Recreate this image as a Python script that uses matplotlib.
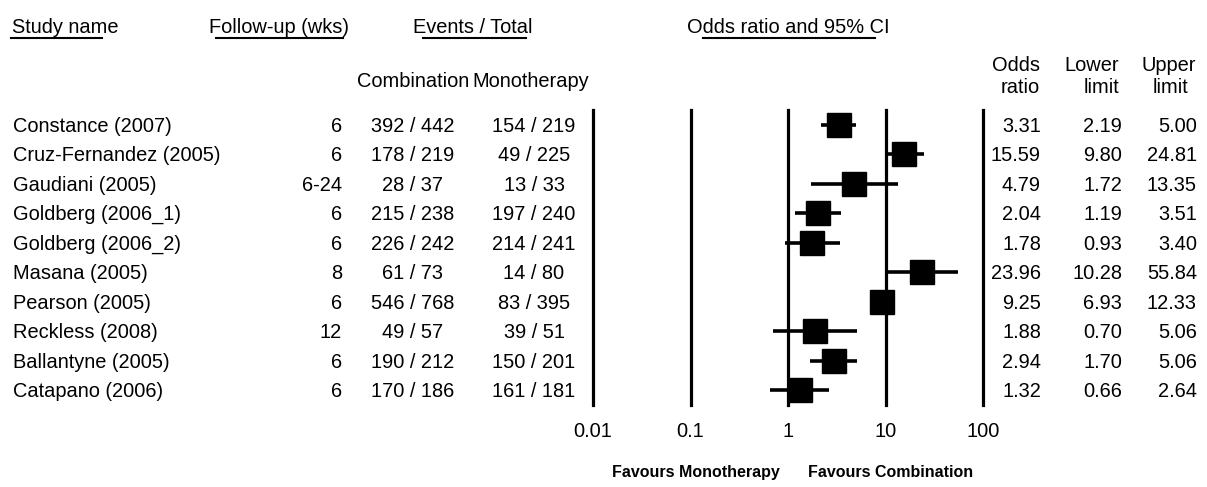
# -*- coding: utf-8 -*-
import numpy as np
import matplotlib.pyplot as plt
from matplotlib import transforms

plt.rcParams['font.family'] = ['Liberation Sans', 'DejaVu Sans']

# Donnees du forest plot
studies = ["Constance (2007)", "Cruz-Fernandez (2005)", "Gaudiani (2005)",
           "Goldberg (2006_1)", "Goldberg (2006_2)", "Masana (2005)",
           "Pearson (2005)", "Reckless (2008)", "Ballantyne (2005)",
           "Catapano (2006)"]
followup = ["6", "6", "6-24", "6", "6", "8", "6", "12", "6", "6"]
comb_events = [392, 178, 28, 215, 226, 61, 546, 49, 190, 170]
comb_total = [442, 219, 37, 238, 242, 73, 768, 57, 212, 186]
mono_events = [154, 49, 13, 197, 214, 14, 83, 39, 150, 161]
mono_total = [219, 225, 33, 240, 241, 80, 395, 51, 201, 181]
odds_ratio = [3.31, 15.59, 4.79, 2.04, 1.78, 23.96, 9.25, 1.88, 2.94, 1.32]
lower = [2.19, 9.80, 1.72, 1.19, 0.93, 10.28, 6.93, 0.70, 1.70, 0.66]
upper = [5.00, 24.81, 13.35, 3.51, 3.40, 55.84, 12.33, 5.06, 5.06, 2.64]
ticks = [0.01, 0.1, 1, 10, 100]
tick_labels = ["0.01", "0.1", "1", "10", "100"]

W, H = 1207, 487
FS = 14.4

fig = plt.figure(figsize=(W / 100, H / 100), dpi=100)

# Axe de fond en coordonnees pixel pour le tableau
bg = fig.add_axes([0, 0, 1, 1])
bg.set_xlim(0, W)
bg.set_ylim(H, 0)
bg.axis('off')

# Axe du forest plot (echelle log)
top, bottom, left, right = 110, 405, 593, 983
ax = fig.add_axes([left / W, (H - bottom) / H, (right - left) / W, (bottom - top) / H])
ax.set_xscale('log')
ax.set_xlim(0.01, 100)
ax.set_ylim(len(studies) - 0.5, -0.5)
ax.axis('off')

rows = np.arange(len(studies))
for t in ticks:
    ax.axvline(t, color='black', lw=2.3, clip_on=False, zorder=1)
ax.hlines(rows, lower, upper, color='black', lw=2.6, zorder=2)
ax.plot(odds_ratio, rows, 's', color='black', ms=17, zorder=3)

# Etiquettes de l'axe x
tr = transforms.blended_transform_factory(ax.transData, bg.transData)
for t, lab in zip(ticks, tick_labels):
    ax.text(t, 437, lab, transform=tr, ha='center', va='baseline', fontsize=FS)

# En-tetes soulignes
for x, txt in [(12, "Study name"), (209, "Follow-up (wks)"),
               (413, "Events / Total"), (687, "Odds ratio and 95% CI")]:
    bg.text(x, 33, txt, ha='left', va='baseline', fontsize=FS)
for x0, x1 in [(11, 102), (216, 343), (423, 526), (703, 875)]:
    bg.plot([x0, x1], [38, 38], color='black', lw=1.5)

bg.text(413, 87, "Combination", ha='center', va='baseline', fontsize=FS)
bg.text(531, 87, "Monotherapy", ha='center', va='baseline', fontsize=FS)
bg.text(1040, 71, "Odds", ha='right', va='baseline', fontsize=FS)
bg.text(1040, 93, "ratio", ha='right', va='baseline', fontsize=FS)
bg.text(1119, 71, "Lower", ha='right', va='baseline', fontsize=FS)
bg.text(1119, 93, "limit", ha='right', va='baseline', fontsize=FS)
bg.text(1196, 71, "Upper", ha='right', va='baseline', fontsize=FS)
bg.text(1171, 93, "limit", ha='center', va='baseline', fontsize=FS)

# Lignes du tableau
for i in rows:
    yb = 124.75 + 29.5 * i + 7
    bg.text(13, yb, studies[i], ha='left', va='baseline', fontsize=FS)
    bg.text(342, yb, followup[i], ha='right', va='baseline', fontsize=FS)
    bg.text(413, yb, f"{comb_events[i]} / {comb_total[i]}", ha='center', va='baseline', fontsize=FS)
    bg.text(534, yb, f"{mono_events[i]} / {mono_total[i]}", ha='center', va='baseline', fontsize=FS)
    bg.text(1041, yb, f"{odds_ratio[i]:.2f}", ha='right', va='baseline', fontsize=FS)
    bg.text(1122, yb, f"{lower[i]:.2f}", ha='right', va='baseline', fontsize=FS)
    bg.text(1197, yb, f"{upper[i]:.2f}", ha='right', va='baseline', fontsize=FS)

# Legende sous l'axe
bg.text(780, 477, "Favours Monotherapy", ha='right', va='baseline', fontsize=11.5, fontweight='bold')
bg.text(808, 477, "Favours Combination", ha='left', va='baseline', fontsize=11.5, fontweight='bold')

fig.savefig("out.png", dpi=100)
